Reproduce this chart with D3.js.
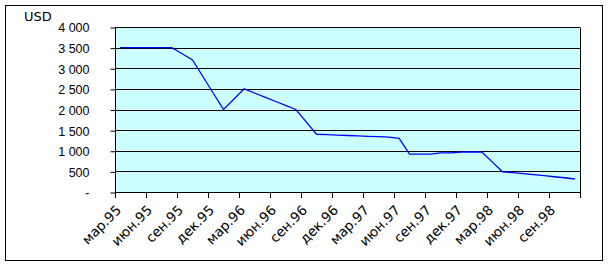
<!DOCTYPE html>
<html>
<head>
<meta charset="utf-8">
<script src="https://cdn.jsdelivr.net/npm/d3@7"></script>
<style>
  body { margin: 0; background: #fff; }
  svg { display: block; font-family: "DejaVu Sans", Verdana, sans-serif; }
</style>
</head>
<body>
<svg id="chart"></svg>
<script>
// monthly categories, one value per month
const months = [
  "мар.95", "апр.95", "май.95", "июн.95", "июл.95", "авг.95", "сен.95", "окт.95", "ноя.95",
  "дек.95", "янв.96", "фев.96", "мар.96", "апр.96", "май.96", "июн.96", "июл.96", "авг.96",
  "сен.96", "окт.96", "ноя.96", "дек.96", "янв.97", "фев.97", "мар.97", "апр.97", "май.97",
  "июн.97", "июл.97", "авг.97", "сен.97", "окт.97", "ноя.97", "дек.97", "янв.98", "фев.98",
  "мар.98", "апр.98", "май.98", "июн.98", "июл.98", "авг.98", "сен.98", "окт.98", "ноя.98"
];
const prices = [
  3500, 3500, 3500, 3500, 3500, 3500, 3350, 3200, 2800,
  2400, 2000, 2250, 2500, 2400, 2300, 2200, 2100, 2000,
  1700, 1400, 1390, 1380, 1370, 1360, 1350, 1340, 1330,
  1300, 920, 920, 920, 950, 950, 970, 970, 970,
  730, 490, 470, 445, 420, 395, 370, 345, 315
];
const tickLabels = [
  "мар.95", "июн.95", "сен.95", "дек.95", "мар.96", "июн.96", "сен.96", "дек.96",
  "мар.97", "июн.97", "сен.97", "дек.97", "мар.98", "июн.98", "сен.98"
];
const yTicks = [0, 500, 1000, 1500, 2000, 2500, 3000, 3500, 4000];
const unitLabel = "USD";

const config = {
  width: 608,
  height: 267,
  plot: { left: 115, right: 580, top: 27, bottom: 192 }
};

const data = months.map((m, i) => ({ month: m, value: prices[i] }));

const svg = d3.select("#chart")
  .attr("width", config.width)
  .attr("height", config.height);

// outer chart border
svg.append("rect")
  .attr("x", 5.5)
  .attr("y", 5.5)
  .attr("width", 597)
  .attr("height", 255)
  .attr("fill", "#fff")
  .attr("stroke", "#000")
  .attr("stroke-width", 1);

const xScale = d3.scaleBand()
  .domain(months)
  .range([config.plot.left, config.plot.right])
  .paddingInner(0)
  .paddingOuter(0);

const yScale = d3.scaleLinear()
  .domain([0, 4000])
  .range([config.plot.bottom, config.plot.top]);

const crisp = (v) => Math.round(v) + 0.5;

// plot area background
svg.append("rect")
  .attr("x", config.plot.left)
  .attr("y", config.plot.top)
  .attr("width", config.plot.right - config.plot.left)
  .attr("height", config.plot.bottom - config.plot.top)
  .attr("fill", "#ccffff");

// horizontal gridlines
svg.append("g")
  .selectAll("line")
  .data(yTicks.filter((d) => d > 0))
  .join("line")
  .attr("x1", config.plot.left)
  .attr("x2", config.plot.right)
  .attr("y1", (d) => crisp(yScale(d)))
  .attr("y2", (d) => crisp(yScale(d)))
  .attr("stroke", "#000")
  .attr("stroke-width", 1);

// right border of plot area
svg.append("line")
  .attr("x1", crisp(config.plot.right))
  .attr("x2", crisp(config.plot.right))
  .attr("y1", crisp(yScale(4000)))
  .attr("y2", crisp(yScale(0)))
  .attr("stroke", "#000");

// y axis
const fmt = d3.formatLocale({ decimal: ",", thousands: "\u00a0", grouping: [3], currency: ["", ""] }).format(",");
const yAxis = d3.axisLeft(yScale)
  .tickValues(yTicks)
  .tickSize(5)
  .tickPadding(21)
  .tickFormat((d) => (d === 0 ? "-" : fmt(d)));

const yAxisG = svg.append("g")
  .attr("transform", `translate(${crisp(config.plot.left)},0.5)`)
  .call(yAxis);
yAxisG.select(".domain").attr("d", `M0,${Math.round(yScale(4000))}V${Math.round(yScale(0))}`);
yAxisG.selectAll(".tick line").attr("stroke", "#000");
yAxisG.selectAll(".tick text")
  .attr("font-size", 12.5)
  .attr("fill", "#000")
  .attr("dy", "0.35em");

// x axis: ticks every 3 months at the category boundary
const tickPos = tickLabels.map((m) => xScale(m)).concat([config.plot.right]);

const xAxisG = svg.append("g");
xAxisG.append("line")
  .attr("x1", config.plot.left)
  .attr("x2", config.plot.right + 1)
  .attr("y1", crisp(config.plot.bottom))
  .attr("y2", crisp(config.plot.bottom))
  .attr("stroke", "#000");
xAxisG.selectAll(".xtick")
  .data(tickPos)
  .join("line")
  .attr("class", "xtick")
  .attr("x1", (d) => crisp(d))
  .attr("x2", (d) => crisp(d))
  .attr("y1", config.plot.bottom)
  .attr("y2", config.plot.bottom + 6)
  .attr("stroke", "#000");
xAxisG.selectAll(".xlabel")
  .data(tickLabels)
  .join("text")
  .attr("class", "xlabel")
  .attr("transform", (d) => `translate(${xScale(d) + 7},${config.plot.bottom + 19}) rotate(-45)`)
  .attr("text-anchor", "end")
  .attr("font-size", 13.5)
  .attr("fill", "#000")
  .text((d) => d);

// unit label
svg.append("text")
  .attr("x", 24)
  .attr("y", 21)
  .attr("font-size", 13)
  .attr("fill", "#000")
  .text(unitLabel);

// price line
const line = d3.line()
  .x((d) => xScale(d.month) + xScale.bandwidth() / 2)
  .y((d) => yScale(d.value));

svg.append("path")
  .datum(data)
  .attr("fill", "none")
  .attr("stroke", "#0000ff")
  .attr("stroke-width", 1.3)
  .attr("d", line);
</script>
</body>
</html>
